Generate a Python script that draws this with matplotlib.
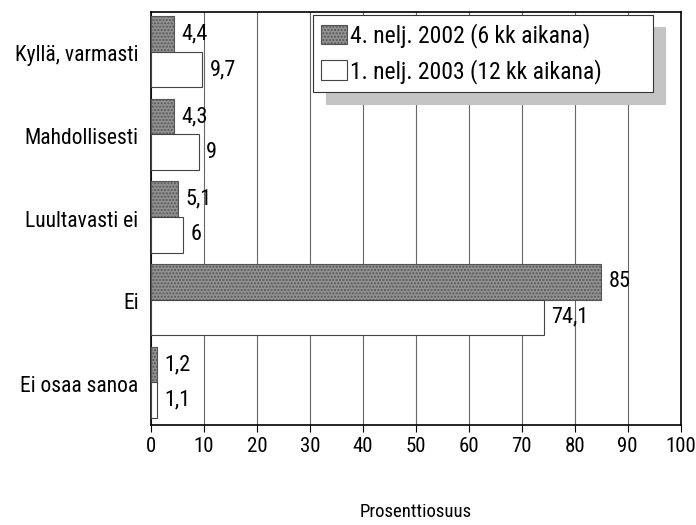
import matplotlib
matplotlib.use("Agg")
import matplotlib.pyplot as plt
from matplotlib import font_manager
import numpy as np

names = {f.name for f in font_manager.fontManager.ttflist}
fams = [n for n in ['Roboto Condensed', 'Liberation Sans Narrow', 'DejaVu Sans Condensed', 'Liberation Sans'] if n in names]
plt.rcParams['font.family'] = fams + ['DejaVu Sans']

categories = ["Kyllä, varmasti", "Mahdollisesti", "Luultavasti ei", "Ei", "Ei osaa sanoa"]
series_names = ["4. nelj. 2002 (6 kk aikana)", "1. nelj. 2003 (12 kk aikana)"]
q4_2002 = [4.4, 4.3, 5.1, 85, 1.2]
q1_2003 = [9.7, 9, 6, 74.1, 1.1]
value_labels_2002 = ["4,4", "4,3", "5,1", "85", "1,2"]
value_labels_2003 = ["9,7", "9", "6", "74,1", "1,1"]
xticks = list(range(0, 101, 10))

fig = plt.figure(figsize=(6.96, 5.25), dpi=100)
ax = fig.add_axes([0.217, 0.19, 0.761, 0.787])

y = np.arange(len(categories))
h = 0.43
b1 = ax.barh(y - h / 2 - 0.02, q4_2002, height=h, color='#929292', edgecolor='#555555', linewidth=0.8,
             hatch='.....', label=series_names[0], zorder=3)
b2 = ax.barh(y + h / 2 - 0.02, q1_2003, height=h, color='white', edgecolor='#444444', linewidth=0.8,
             label=series_names[1], zorder=3)
for rect, t in zip(b1, value_labels_2002):
    ax.text(rect.get_width() + 1.4, rect.get_y() + rect.get_height() / 2, t,
            va='center', ha='left', fontsize=16, zorder=4)
for rect, t in zip(b2, value_labels_2003):
    ax.text(rect.get_width() + 1.4, rect.get_y() + rect.get_height() / 2, t,
            va='center', ha='left', fontsize=16, zorder=4)

ax.set_xlim(0, 100)
ax.set_ylim(len(categories) - 0.5, -0.5)
ax.set_yticks(y)
ax.set_yticklabels(categories, fontsize=15.5)
ax.set_xticks(xticks)
ax.set_xticklabels([str(v) for v in xticks], fontsize=15)
ax.tick_params(axis='y', length=0, pad=9)
ax.tick_params(axis='x', length=5, direction='out')
ax.xaxis.grid(True, color='#666666', linewidth=0.8, zorder=0)
for s in ax.spines.values():
    s.set_linewidth(1.2)
ax.set_xlabel("Prosenttiosuus", fontsize=13.5, labelpad=34)

leg = ax.legend(loc='upper left', bbox_to_anchor=(0.306, 0.811, 0.641, 0.182), mode='expand',
                fontsize=17, frameon=True,
                fancybox=False, shadow={'color': '#c4c4c4', 'alpha': 1, 'ox': 9, 'oy': -9},
                edgecolor='#333333',
                handlelength=1.1, handleheight=0.9, handletextpad=0.1, borderpad=0.35,
                labelspacing=0.45, borderaxespad=0)
leg.get_frame().set_linewidth(0.8)

fig.savefig("out.png", dpi=100)
